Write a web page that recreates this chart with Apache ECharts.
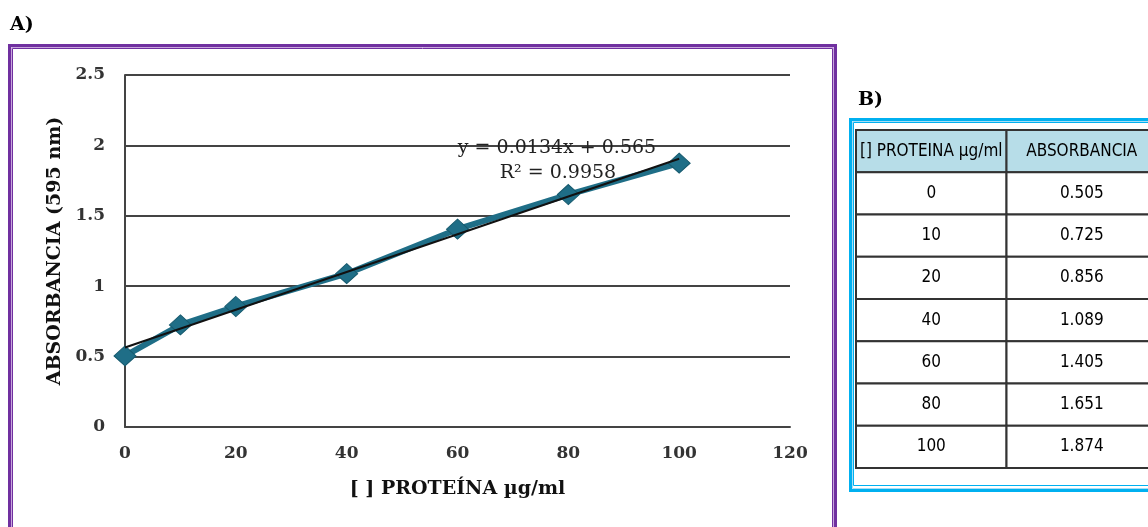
<!DOCTYPE html>
<html>
<head>
<meta charset="utf-8">
<script src="https://cdn.jsdelivr.net/npm/echarts@6/dist/echarts.min.js"></script>
<style>
  html, body { margin: 0; padding: 0; background: #fff; }
  #chart { width: 1148px; height: 527px; }
</style>
</head>
<body>
<div id="chart"></div>
<script>
// datos de la curva de calibracion
var concentracion = [0, 10, 20, 40, 60, 80, 100];
var absorbancia = [0.505, 0.725, 0.856, 1.089, 1.405, 1.651, 1.874];
var pendiente = 0.0134;
var intercepto = 0.565;
var r2 = 0.9958;
var trendX = [0, 100];
var encabezados = ['[] PROTEINA \u00b5g/ml', 'ABSORBANCIA'];

var puntos = [];
for (var i = 0; i < concentracion.length; i++) {
    puntos.push([concentracion[i], absorbancia[i]]);
}
var tendencia = trendX.map(function (x) {
    return [x, +(pendiente * x + intercepto).toFixed(4)];
});

// celdas de la tabla B (columna, fila)
var celdas = [];
var textos = [];
celdas.push([0, 0]); textos.push(encabezados[0]);
celdas.push([1, 0]); textos.push(encabezados[1]);
for (var j = 0; j < concentracion.length; j++) {
    celdas.push([0, j + 1]); textos.push(String(concentracion[j]));
    celdas.push([1, j + 1]); textos.push(absorbancia[j].toFixed(3));
}

var serif = 'DejaVu Serif';
var narrow = '"Liberation Sans Narrow", "DejaVu Sans Condensed", sans-serif';

var dom = document.getElementById('chart');
var myChart = echarts.init(dom);
var option = {
    animation: false,
    backgroundColor: '#fff',
    graphic: [
        {type: 'text', left: 10, top: 16, style: {text: 'A)', font: 'bold 19px ' + serif, fill: '#000'}},
        {type: 'text', left: 858, top: 91, style: {text: 'B)', font: 'bold 19px ' + serif, fill: '#000'}},
        // marco morado
        {type: 'rect', silent: true, shape: {x: 9.5, y: 45.5, width: 826, height: 520}, style: {fill: 'none', stroke: '#7030a0', lineWidth: 3}},
        {type: 'rect', silent: true, shape: {x: 11.5, y: 47.5, width: 822, height: 520}, style: {fill: 'none', stroke: '#c9a6dd', lineWidth: 1}},
        {type: 'rect', silent: true, shape: {x: 12.5, y: 48.5, width: 820, height: 520}, style: {fill: 'none', stroke: '#7030a0', lineWidth: 1}},
        // marco celeste
        {type: 'rect', silent: true, shape: {x: 850.5, y: 119.5, width: 320, height: 371}, style: {fill: 'none', stroke: '#00b0f0', lineWidth: 3}},
        {type: 'rect', silent: true, shape: {x: 852.5, y: 121.5, width: 320, height: 367}, style: {fill: 'none', stroke: '#a6def6', lineWidth: 1}},
        {type: 'rect', silent: true, shape: {x: 853.5, y: 122.5, width: 320, height: 363}, style: {fill: 'none', stroke: '#00b0f0', lineWidth: 1}},
        // ecuacion de la recta
        {type: 'text', silent: true, z: 10, x: 557, y: 148, style: {
            text: 'y = ' + pendiente + 'x + ' + intercepto, font: '19px ' + serif, fill: '#222',
            textAlign: 'center', textVerticalAlign: 'middle'}},
        {type: 'text', silent: true, z: 10, x: 558, y: 173, style: {
            text: 'R\u00b2 = ' + r2, font: '19px ' + serif, fill: '#222',
            textAlign: 'center', textVerticalAlign: 'middle'}}
    ],
    grid: [
        {left: 125, top: 75, width: 665, height: 352},
        {left: 856, top: 130, width: 292, height: 338}
    ],
    xAxis: [{
        gridIndex: 0,
        type: 'value',
        min: 0,
        max: 120,
        interval: 20,
        name: '[ ] PROTE\u00cdNA \u00b5g/ml',
        nameLocation: 'middle',
        nameGap: 53,
        nameTextStyle: {fontFamily: serif, fontWeight: 'bold', fontSize: 19, color: '#111'},
        axisLine: {show: true, lineStyle: {color: '#444', width: 2}},
        axisTick: {show: false},
        axisLabel: {margin: 18, fontFamily: serif, fontSize: 17, fontWeight: 'bold', color: '#333'},
        splitLine: {show: false}
    }, {
        gridIndex: 1,
        type: 'value',
        min: 0,
        max: 1.94,
        show: false
    }],
    yAxis: [{
        gridIndex: 0,
        type: 'value',
        min: 0,
        max: 2.5,
        interval: 0.5,
        name: 'ABSORBANCIA (595 nm)',
        nameLocation: 'middle',
        nameGap: 60,
        nameRotate: 90,
        nameTextStyle: {fontFamily: serif, fontWeight: 'bold', fontSize: 19, color: '#111'},
        axisLine: {show: true, lineStyle: {color: '#444', width: 2}},
        axisTick: {show: false},
        axisLabel: {margin: 20, fontFamily: serif, fontSize: 17, fontWeight: 'bold', color: '#333'},
        splitLine: {show: true, lineStyle: {color: '#444', width: 2}}
    }, {
        gridIndex: 1,
        type: 'value',
        min: 0,
        max: 8,
        inverse: true,
        show: false
    }],
    series: [{
        name: 'absorbancia',
        type: 'line',
        xAxisIndex: 0,
        yAxisIndex: 0,
        data: puntos,
        clip: false,
        symbol: 'diamond',
        symbolSize: [22, 20],
        lineStyle: {color: '#1f6e87', width: 6},
        itemStyle: {color: '#1f6e87', borderColor: '#175a6e', borderWidth: 1},
        z: 3
    }, {
        name: 'lineal',
        type: 'line',
        xAxisIndex: 0,
        yAxisIndex: 0,
        data: tendencia,
        symbol: 'none',
        lineStyle: {color: '#111', width: 2},
        z: 4
    }, {
        name: 'tabla',
        type: 'custom',
        xAxisIndex: 1,
        yAxisIndex: 1,
        clip: false,
        data: celdas,
        renderItem: function (params, api) {
            var col = api.value(0);
            var fila = api.value(1);
            var p0 = api.coord([col, fila]);
            var p1 = api.coord([col + 1, fila + 1]);
            return {
                type: 'group',
                children: [{
                    type: 'rect',
                    shape: {x: p0[0], y: p0[1], width: p1[0] - p0[0], height: p1[1] - p0[1]},
                    style: {fill: fila === 0 ? '#b7dde8' : '#fff', stroke: '#333', lineWidth: 2}
                }, {
                    type: 'text',
                    style: {
                        text: textos[params.dataIndex],
                        x: (p0[0] + p1[0]) / 2,
                        y: (p0[1] + p1[1]) / 2,
                        textAlign: 'center',
                        textVerticalAlign: 'middle',
                        font: '17px ' + narrow,
                        fill: '#000'
                    }
                }]
            };
        }
    }]
};
if (option && typeof option == "object") {
    myChart.setOption(option, true);
}
</script>
</body>
</html>
